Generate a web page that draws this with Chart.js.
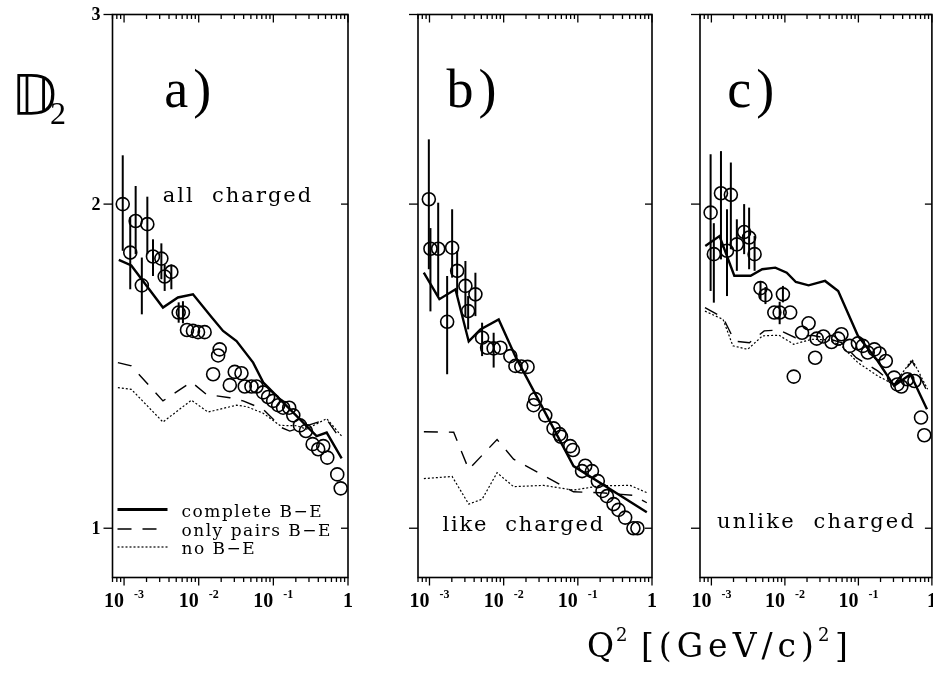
<!DOCTYPE html>
<html>
<head>
<meta charset="utf-8">
<title>D2 vs Q2</title>
<script src="https://cdn.jsdelivr.net/npm/chart.js@4.4.1/dist/chart.umd.min.js"></script>
<style>
  html, body { margin: 0; padding: 0; background: #fff; }
  #wrap { position: relative; width: 933px; height: 680px; overflow: hidden; }
  #wrap canvas { position: absolute; left: 0; top: 0; }
</style>
</head>
<body>
<div id="wrap">
  <canvas id="panelA" width="940" height="680"></canvas>
  <canvas id="panelB" width="940" height="680"></canvas>
  <canvas id="panelC" width="940" height="680"></canvas>
</div>
<script>
// ---- a) all charged ----
const aQ2 = [9.6e-4, 1.21e-3, 1.43e-3, 1.73e-3, 2.05e-3, 2.44e-3, 3.16e-3, 3.5e-3, 4.3e-3, 5.39e-3, 6.15e-3, 6.97e-3, 8.38e-3, 9.79e-3, 1.2e-2, 1.56e-2, 1.82e-2, 1.91e-2, 2.61e-2, 3.04e-2, 3.74e-2, 4.14e-2, 5.09e-2, 5.94e-2, 7.3e-2, 8.51e-2, 9.94e-2, 0.116, 0.135, 0.163, 0.185, 0.227, 0.273, 0.336, 0.399, 0.466, 0.528, 0.718, 0.798];
const aD2 = [2.0, 1.803, 1.929, 1.681, 1.916, 1.788, 1.78, 1.713, 1.73, 1.586, 1.586, 1.528, 1.525, 1.521, 1.521, 1.39, 1.447, 1.466, 1.358, 1.397, 1.393, 1.354, 1.354, 1.354, 1.337, 1.324, 1.313, 1.301, 1.294, 1.294, 1.273, 1.246, 1.231, 1.197, 1.184, 1.192, 1.163, 1.122, 1.089];
const aLo = [1.81, 1.667, 1.797, 1.58, 1.797, 1.715, 1.703, 1.661, 1.667, 1.552, 1.55];
const aHi = [2.22, 1.945, 2.079, 1.784, 2.032, 1.855, 1.839, 1.758, 1.758, 1.621, 1.625];
const aFullQ2 = [8.5e-4, 1.25e-3, 3.32e-3, 5.27e-3, 8.38e-3, 1.49e-2, 2.12e-2, 3.21e-2, 5.36e-2, 7.3e-2, 0.166, 0.38, 0.518, 0.822];
const aFullD2 = [1.775, 1.754, 1.603, 1.638, 1.649, 1.57, 1.525, 1.492, 1.425, 1.366, 1.29, 1.218, 1.227, 1.161];
const aPairQ2 = [8.26e-4, 1.25e-3, 3.32e-3, 7.98e-3, 1.27e-2, 2.61e-2, 3.93e-2, 7.3e-2, 0.129, 0.166, 0.518, 0.798];
const aPairD2 = [1.425, 1.415, 1.313, 1.367, 1.331, 1.322, 1.313, 1.29, 1.24, 1.231, 1.262, 1.209];
const aNoQ2 = [8.26e-4, 1.25e-3, 3.32e-3, 7.98e-3, 1.33e-2, 3.21e-2, 4.37e-2, 7.3e-2, 0.122, 0.205, 0.278, 0.518, 0.822];
const aNoD2 = [1.351, 1.346, 1.255, 1.315, 1.282, 1.301, 1.297, 1.279, 1.246, 1.245, 1.236, 1.264, 1.218];

// ---- b) like charged ----
const bQ2 = [9.8e-4, 1.03e-3, 1.31e-3, 1.73e-3, 2.02e-3, 2.36e-3, 3.05e-3, 3.32e-3, 4.16e-3, 5.12e-3, 5.98e-3, 7.33e-3, 9.03e-3, 1.23e-2, 1.44e-2, 1.73e-2, 2.1e-2, 2.53e-2, 2.67e-2, 3.64e-2, 4.71e-2, 5.67e-2, 5.93e-2, 7.9e-2, 8.59e-2, 0.114, 0.126, 0.155, 0.186, 0.215, 0.247, 0.303, 0.353, 0.435, 0.562, 0.636];
const bD2 = [2.021, 1.818, 1.818, 1.555, 1.822, 1.734, 1.679, 1.591, 1.649, 1.503, 1.471, 1.469, 1.471, 1.445, 1.415, 1.413, 1.412, 1.301, 1.318, 1.273, 1.238, 1.223, 1.216, 1.192, 1.182, 1.13, 1.143, 1.13, 1.106, 1.083, 1.071, 1.053, 1.04, 1.023, 1.0, 1.0];
const bLo = [1.74, 1.59, 1.643, 1.39, 1.709, 1.643, 1.574, 1.53, 1.574, 1.445, null, 1.41];
const bHi = [2.297, 1.9, 2.006, 1.715, 1.978, 1.809, 1.771, 1.643, 1.727, 1.552, null, 1.519];
const bFullQ2 = [8.38e-4, 1.36e-3, 2.24e-3, 3.38e-3, 4.86e-3, 8.57e-3, 1.44e-2, 8.75e-2, 0.851];
const bFullD2 = [1.727, 1.632, 1.667, 1.491, 1.53, 1.563, 1.444, 1.142, 1.035];
const bPairQ2 = [8.4e-4, 2.12e-3, 3.38e-3, 8.15e-3, 1.36e-2, 8.75e-2, 0.2, 0.562, 0.851];
const bPairD2 = [1.229, 1.228, 1.134, 1.209, 1.159, 1.081, 1.079, 1.073, 1.056];
const bNoQ2 = [8.4e-4, 2.02e-3, 3.38e-3, 5.12e-3, 8.15e-3, 1.36e-2, 3.46e-2, 8.75e-2, 0.2, 0.507, 0.851];
const bNoD2 = [1.112, 1.117, 1.053, 1.064, 1.126, 1.093, 1.096, 1.085, 1.095, 1.096, 1.079];

// ---- c) unlike charged ----
const cQ2 = [9.76e-4, 1.08e-3, 1.35e-3, 1.63e-3, 1.84e-3, 2.22e-3, 2.79e-3, 3.26e-3, 3.87e-3, 4.66e-3, 5.44e-3, 7.18e-3, 8.49e-3, 9.4e-3, 1.18e-2, 1.32e-2, 1.71e-2, 2.1e-2, 2.58e-2, 2.71e-2, 3.34e-2, 4.31e-2, 5.31e-2, 5.88e-2, 7.62e-2, 9.85e-2, 0.115, 0.134, 0.165, 0.193, 0.236, 0.306, 0.339, 0.384, 0.462, 0.578, 0.711, 0.788];
const cD2 = [1.964, 1.797, 2.047, 1.81, 2.04, 1.835, 1.884, 1.862, 1.797, 1.671, 1.646, 1.586, 1.586, 1.649, 1.586, 1.383, 1.519, 1.55, 1.44, 1.5, 1.507, 1.489, 1.5, 1.514, 1.477, 1.485, 1.477, 1.456, 1.466, 1.453, 1.43, 1.38, 1.36, 1.354, 1.375, 1.37, 1.267, 1.22];
const cLo = [1.661, 1.62, 1.777, 1.643, 1.816, 1.734, 1.797, 1.74, 1.734, 1.632, 1.615, null, 1.547, 1.621];
const cHi = [2.225, 1.92, 2.24, 1.978, 2.186, 1.936, 2.0, 1.985, 1.868, 1.697, 1.675, null, 1.623, 1.679];
const cFullQ2 = [8.26e-4, 1.29e-3, 2.05e-3, 3.42e-3, 4.91e-3, 7.41e-3, 1.06e-2, 1.41e-2, 2.1e-2, 3.52e-2, 5.31e-2, 9.85e-2, 0.183, 0.306, 0.511, 0.857];
const cFullD2 = [1.829, 1.868, 1.716, 1.716, 1.74, 1.746, 1.727, 1.693, 1.681, 1.697, 1.661, 1.509, 1.43, 1.356, 1.39, 1.29];
const cPairQ2 = [8.18e-4, 1.44e-3, 2.07e-3, 3.29e-3, 5.23e-3, 8.3e-3, 1.39e-2, 2.32e-2, 3.9e-2, 5.88e-2, 9.33e-2, 0.183, 0.306, 0.539, 0.875];
const cPairD2 = [1.603, 1.569, 1.492, 1.487, 1.525, 1.528, 1.503, 1.511, 1.5, 1.487, 1.44, 1.4, 1.36, 1.43, 1.337];
const cNoQ2 = [8.18e-4, 1.44e-3, 1.96e-3, 3.12e-3, 4.96e-3, 8.3e-3, 1.32e-2, 2.32e-2, 3.9e-2, 5.88e-2, 9.85e-2, 0.183, 0.306, 0.539, 0.875];
const cNoD2 = [1.591, 1.563, 1.477, 1.466, 1.509, 1.511, 1.482, 1.498, 1.496, 1.477, 1.425, 1.385, 1.36, 1.435, 1.346];

// ---- axes / labels ----
const q2Min = 7e-4, q2Max = 1, d2Min = 0.9, d2Max = 3;
const q2TickVals = [1e-3, 1e-2, 1e-1, 1];
const q2TickExp = ["-3", "-2", "-1", ""];
const d2TickVals = [1, 2, 3];
const d2TickLabels = ["1", "2", "3"];
const curveLabels = ["complete B\u2212E", "only pairs B\u2212E", "no B\u2212E"];

const W = 940, H = 680;
const SERIF = '"Liberation Serif", "DejaVu Serif", serif';
const WIDE = '"DejaVu Serif", serif';

function zip(xs, ys) { return xs.map((x, i) => ({ x: x, y: ys[i] })); }

function seg(ctx, x1, y1, x2, y2) {
  ctx.beginPath();
  ctx.moveTo(x1, y1);
  ctx.lineTo(x2, y2);
  ctx.stroke();
}

const frame = {
  id: "frame",
  afterDatasetsDraw(chart, args, o) {
    const { ctx, chartArea: a, scales: { x, y } } = chart;
    ctx.save();
    ctx.strokeStyle = "#000";
    ctx.fillStyle = "#000";
    ctx.setLineDash([]);

    // error bars on the data points
    const pts = chart.data.datasets[3];
    ctx.lineWidth = 2;
    pts.errLo.forEach((lo, i) => {
      const hi = pts.errHi[i];
      if (lo == null || hi == null) return;
      const px = x.getPixelForValue(pts.data[i].x);
      seg(ctx, px, y.getPixelForValue(hi), px, y.getPixelForValue(lo));
    });

    // box
    ctx.lineWidth = 1.6;
    ctx.strokeRect(a.left, a.top, a.right - a.left, a.bottom - a.top);

    // log ticks: outward at bottom, inward at top
    ctx.lineWidth = 1.3;
    for (let d = -4; d <= 0; d++) {
      for (let m = 1; m <= 9; m++) {
        const v = m * Math.pow(10, d);
        if (v < x.min * 0.999 || v > x.max * 1.001) continue;
        const px = x.getPixelForValue(v);
        const len = m === 1 ? 8 : 4.5;
        seg(ctx, px, a.bottom, px, a.bottom + len);
        seg(ctx, px, a.top, px, a.top + len);
      }
    }
    d2TickVals.forEach(v => {
      const py = y.getPixelForValue(v);
      seg(ctx, a.left - 9, py, a.left, py);
      seg(ctx, a.right - 7, py, a.right, py);
    });

    // x tick labels  10^-n
    ctx.textBaseline = "alphabetic";
    const base = a.bottom + 29;
    q2TickVals.forEach((v, i) => {
      const px = x.getPixelForValue(v);
      ctx.font = "bold 20px " + SERIF;
      if (!q2TickExp[i]) {
        ctx.textAlign = "center";
        ctx.fillText("1", px, base);
        return;
      }
      const w1 = ctx.measureText("10").width;
      ctx.font = "bold 12px " + SERIF;
      const w2 = ctx.measureText(q2TickExp[i]).width;
      const gap = 10;
      const left = px - (w1 + gap + w2) / 2;
      ctx.textAlign = "left";
      ctx.font = "bold 20px " + SERIF;
      ctx.fillText("10", left, base);
      ctx.font = "bold 12px " + SERIF;
      ctx.fillText(q2TickExp[i], left + w1 + gap, base - 9);
    });

    // y tick labels (left panel only)
    if (o.yLabels) {
      ctx.font = "bold 18px " + SERIF;
      ctx.textAlign = "right";
      ctx.textBaseline = "middle";
      d2TickVals.forEach((v, i) => {
        ctx.fillText(d2TickLabels[i], a.left - 12, y.getPixelForValue(v) + 1);
      });
      ctx.textBaseline = "alphabetic";
      ctx.textAlign = "left";
      ctx.font = "56px " + '"DejaVu Sans", ' + SERIF;
      ctx.fillText("\uD835\uDD3B", 11, 114);
      ctx.font = "32px " + SERIF;
      ctx.fillText("2", 50, 124);
    }

    // panel letter
    ctx.textAlign = "left";
    ctx.textBaseline = "alphabetic";
    ctx.font = "54px " + SERIF;
    ctx.letterSpacing = "5px";
    ctx.fillText(o.letter, x.getPixelForValue(o.letterAt[0]), y.getPixelForValue(o.letterAt[1]));

    // caption
    ctx.font = "21px " + WIDE;
    ctx.letterSpacing = o.captionSpacing;
    ctx.fillText(o.caption, x.getPixelForValue(o.captionAt[0]), y.getPixelForValue(o.captionAt[1]));
    ctx.letterSpacing = "0px";

    // legend of the three curves
    if (o.legend) {
      const rows = [a.bottom - 68, a.bottom - 48.5, a.bottom - 30.5];
      [0, 1, 2].forEach(i => {
        const ds = chart.data.datasets[i];
        ctx.lineWidth = i === 0 ? 3 : ds.borderWidth;
        ctx.setLineDash(ds.borderDash || []);
        seg(ctx, a.left + 5, rows[i], a.left + 55, rows[i]);
        ctx.setLineDash([]);
        ctx.font = "17px " + WIDE;
        ctx.letterSpacing = "1.5px";
        ctx.fillText(ds.label, a.left + 69, rows[i] + 7);
        ctx.letterSpacing = "0px";
      });
    }

    // x axis title
    if (o.xTitle) {
      ctx.textAlign = "left";
      ctx.font = "33px " + WIDE;
      ctx.fillText("Q", 587, 657);
      ctx.font = "18px " + WIDE;
      ctx.fillText("2", 616, 641);
      ctx.font = "33px " + WIDE;
      ctx.letterSpacing = "5px";
      const t = "[(GeV/c)";
      ctx.fillText(t, 641, 657);
      const w = ctx.measureText(t).width;
      ctx.font = "18px " + WIDE;
      ctx.fillText("2", 641 + w - 1, 641);
      ctx.font = "33px " + WIDE;
      ctx.fillText("]", 641 + w + 16, 657);
      ctx.letterSpacing = "0px";
    }
    ctx.restore();
  }
};

function panel(id, left, right, cfg) {
  return new Chart(document.getElementById(id), {
    type: "scatter",
    data: {
      datasets: [
        { label: curveLabels[0], data: zip(cfg.fullQ2, cfg.fullD2), showLine: true, borderColor: "#000", borderWidth: 2.4, pointRadius: 0, tension: 0 },
        { label: curveLabels[1], data: zip(cfg.pairQ2, cfg.pairD2), showLine: true, borderColor: "#000", borderWidth: 1.4, borderDash: [14, 11], pointRadius: 0, tension: 0 },
        { label: curveLabels[2], data: zip(cfg.noQ2, cfg.noD2), showLine: true, borderColor: "#000", borderWidth: 1.2, borderDash: [2, 2], pointRadius: 0, tension: 0 },
        { label: "data", data: zip(cfg.q2, cfg.d2), showLine: false, pointRadius: 6.5, pointBorderWidth: 1.6,
          pointBorderColor: "#000", pointBackgroundColor: "rgba(0,0,0,0)", clip: false,
          errLo: cfg.lo, errHi: cfg.hi }
      ]
    },
    options: {
      responsive: false,
      animation: false,
      devicePixelRatio: 1,
      layout: { padding: { left: left, right: W - right, top: 14.5, bottom: H - 577.5 } },
      scales: {
        x: { type: "logarithmic", min: q2Min, max: q2Max, display: false },
        y: { type: "logarithmic", min: d2Min, max: d2Max, display: false }
      },
      plugins: {
        legend: { display: false },
        tooltip: { enabled: false },
        frame: cfg.deco
      }
    },
    plugins: [frame]
  });
}

panel("panelA", 112.5, 348, {
  q2: aQ2, d2: aD2, lo: aLo, hi: aHi,
  fullQ2: aFullQ2, fullD2: aFullD2, pairQ2: aPairQ2, pairD2: aPairD2, noQ2: aNoQ2, noD2: aNoD2,
  deco: { letter: "a)", letterAt: [3.45e-3, 2.46], caption: "all  charged", captionAt: [3.3e-3, 2.01],
          captionSpacing: "2px", legend: true, yLabels: true }
});
panel("panelB", 418, 652, {
  q2: bQ2, d2: bD2, lo: bLo, hi: bHi,
  fullQ2: bFullQ2, fullD2: bFullD2, pairQ2: bPairQ2, pairD2: bPairD2, noQ2: bNoQ2, noD2: bNoD2,
  deco: { letter: "b)", letterAt: [1.7e-3, 2.46], caption: "like  charged", captionAt: [1.5e-3, 0.994],
          captionSpacing: "1.8px" }
});
panel("panelC", 700, 935, {
  q2: cQ2, d2: cD2, lo: cLo, hi: cHi,
  fullQ2: cFullQ2, fullD2: cFullD2, pairQ2: cPairQ2, pairD2: cPairD2, noQ2: cNoQ2, noD2: cNoD2,
  deco: { letter: "c)", letterAt: [1.65e-3, 2.46], caption: "unlike  charged", captionAt: [1.19e-3, 1.0],
          captionSpacing: "2.2px", xTitle: true }
});
</script>
</body>
</html>
